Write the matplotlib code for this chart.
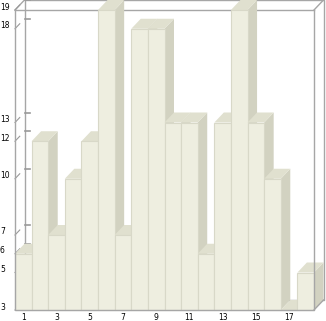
import matplotlib
matplotlib.use("Agg")
import matplotlib.pyplot as plt
import matplotlib.transforms as mtransforms
from matplotlib.patches import Polygon

# bar values, one per category 1..18
categories = list(range(1, 19))
values = [6, 12, 7, 10, 12, 19, 7, 18, 18, 13, 13, 6, 13, 19, 13, 10, 3, 5]
x_tick_labels = [1, 3, 5, 7, 9, 11, 13, 15, 17]
y_tick_values = [3, 5, 6, 7, 10, 12, 13, 18, 19]

base = 3
top = 19

front_col = '#eeeee0'
top_col = '#e0e0cf'
side_col = '#d2d2c1'
edge_col = '#d8d8c8'
frame_col = '#a6a6a6'

W, H = 326, 321
fig = plt.figure(figsize=(W / 100, H / 100), dpi=100)
ax = fig.add_axes([15 / W, 11 / H, 299 / W, 300 / H])
ax.set_xlim(0.5, 18.5)
ax.set_ylim(base, top)
for s in ax.spines.values():
    s.set_visible(False)

# depth of the fake 3d, in data units (about 10 px)
px_x = 299 / 18
px_y = 300 / 16
dx = 9.5 / px_x
dy = 10 / px_y

x0, x1 = 0.5, 18.5

# back box + back wall ticks (behind the bars)
ax.plot([x0 + dx, x1 + dx, x1 + dx, x0 + dx, x0 + dx],
        [base + dy, base + dy, top + dy, top + dy, base + dy],
        color=frame_col, lw=1, clip_on=False, zorder=1)
ax.plot([x0, x1], [top, top], color=frame_col, lw=1, clip_on=False, zorder=1)
for xa in (x0, x1):
    ax.plot([xa, xa + dx], [top, top + dy], color=frame_col, lw=1, clip_on=False, zorder=1)
for v in y_tick_values:
    ax.plot([x0 + dx, x0 + dx + 5 / px_x], [v + dy, v + dy], color='#999999', lw=1.2,
            clip_on=False, zorder=1)
    ax.plot([x0, x0 + dx / 2], [v, v + dy / 2], color='#999999', lw=0.8,
            clip_on=False, zorder=1.5)

# bars, drawn left to right so each one hides the side of the previous
bars = ax.bar(categories, [v - base for v in values], bottom=base, width=1,
              color=front_col, edgecolor=edge_col, linewidth=0.8, clip_on=False)
for i, (c, v) in enumerate(zip(categories, values)):
    z = 2 + i * 0.01
    l, r = c - 0.5, c + 0.5
    side = Polygon([(r, base), (r + dx, base + dy), (r + dx, v + dy), (r, v)],
                   closed=True, facecolor=side_col, edgecolor='none', clip_on=False, zorder=z)
    lid = Polygon([(l, v), (l + dx, v + dy), (r + dx, v + dy), (r, v)],
                  closed=True, facecolor=top_col, edgecolor='none', clip_on=False, zorder=z + 0.002)
    ax.add_patch(side)
    ax.add_patch(lid)
    bars[i].set_zorder(z + 0.005)

# front edges on top
ax.plot([x0, x0, x1, x1], [top, base, base, top], color=frame_col, lw=1,
        clip_on=False, zorder=5)
ax.plot([x1, x1 + dx], [base, base + dy], color=frame_col, lw=1, clip_on=False, zorder=5)

ax.set_yticks([])
ax.set_xticks(x_tick_labels)
ax.set_xticklabels([str(t) for t in x_tick_labels], fontsize=5.5)
ax.tick_params(axis='x', length=0, pad=2)

trans = mtransforms.blended_transform_factory(fig.transFigure, ax.transData)
trans = mtransforms.offset_copy(trans, fig=fig, y=3, units='dots')
for v in y_tick_values:
    ax.text(0.0, v, str(v), transform=trans, ha='left', va='center', fontsize=5.5)

fig.savefig('out.png', dpi=100, facecolor='white')
